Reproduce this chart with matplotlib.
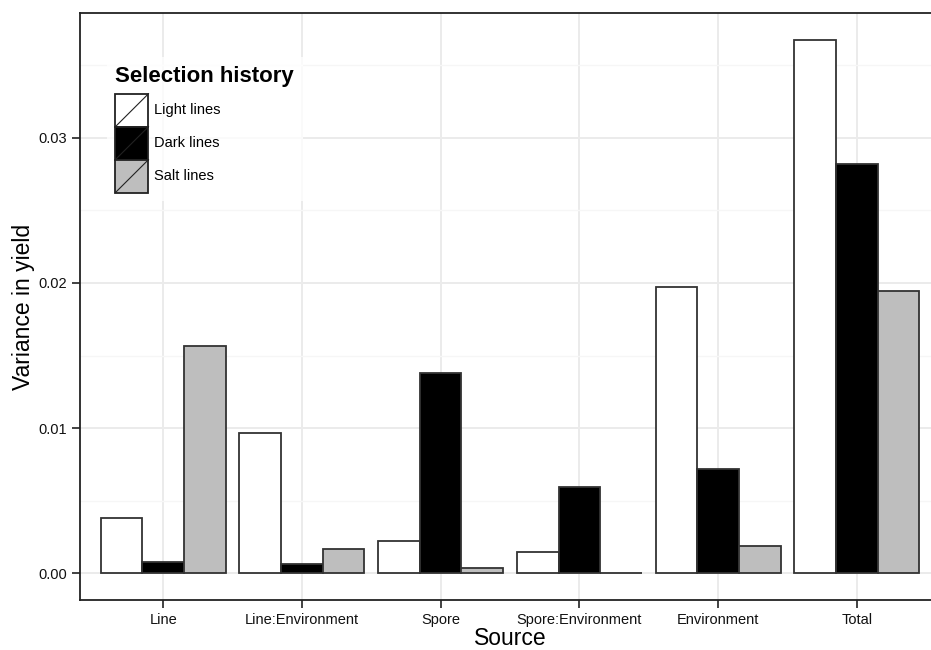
import matplotlib
matplotlib.use('Agg')
import matplotlib.pyplot as plt
import numpy as np
from matplotlib.patches import Rectangle
from matplotlib.lines import Line2D
from matplotlib.legend_handler import HandlerBase
from matplotlib.ticker import MultipleLocator

plt.rcParams['font.family'] = ['Liberation Sans', 'DejaVu Sans']

# Variance components per source, one list per selection history
sources = ['Line', 'Line:Environment', 'Spore', 'Spore:Environment', 'Environment', 'Total']
light_lines = [0.00379, 0.00964, 0.00225, 0.00145, 0.0197, 0.03675]
dark_lines = [0.00080, 0.00062, 0.01377, 0.00597, 0.00718, 0.0282]
salt_lines = [0.01565, 0.00170, 0.00034, 0.0, 0.00186, 0.01941]
series_names = ['Light lines', 'Dark lines', 'Salt lines']
series_colors = ['white', 'black', '#BEBEBE']


class SlashKey(HandlerBase):
    # filled square key with a diagonal stroke, like ggplot bar keys
    def create_artists(self, legend, orig_handle, xdescent, ydescent,
                       width, height, fontsize, trans):
        x0, y0 = -xdescent, -ydescent
        box = Rectangle((x0, y0), width, height,
                        facecolor=orig_handle.get_facecolor(),
                        edgecolor='#222222', lw=1.3, transform=trans)
        slash = Line2D([x0, x0 + width], [y0, y0 + height],
                       color='#222222', lw=0.8, transform=trans)
        return [box, slash]


fig = plt.figure(figsize=(9.31, 6.5), dpi=100)
ax = fig.add_axes([0.0859, 0.0769, 0.9238, 0.9031])

x = np.arange(len(sources))
width = 0.3
handles = []
for i, (vals, name, col) in enumerate(zip([light_lines, dark_lines, salt_lines],
                                            series_names, series_colors)):
    bars = ax.bar(x + (i - 1) * width, vals, width, color=col,
                  edgecolor='#333333', linewidth=1.3, label=name, zorder=3)
    handles.append(bars[0])

ymax = max(max(light_lines), max(dark_lines), max(salt_lines))
pad = 0.05 * ymax
ax.set_ylim(-pad, ymax + pad)
ax.set_xlim(-0.6, len(sources) - 0.4)

ax.set_xticks(x)
ax.set_xticklabels(sources, fontsize=10.5)
ax.yaxis.set_major_locator(MultipleLocator(0.01))
ax.yaxis.set_minor_locator(MultipleLocator(0.005))
ax.set_yticks([0.0, 0.01, 0.02, 0.03])
ax.set_yticklabels(['0.00', '0.01', '0.02', '0.03'], fontsize=10.5)

ax.grid(which='major', axis='both', color='#EBEBEB', lw=1.4, zorder=0)
ax.grid(which='minor', axis='y', color='#F6F6F6', lw=1.0, zorder=0)
ax.set_axisbelow(True)

ax.tick_params(axis='both', which='major', direction='out', length=6,
               width=1.2, color='#222222', pad=3, labelcolor='#111111')
ax.tick_params(axis='y', which='minor', length=0)
for s in ax.spines.values():
    s.set_color('#222222')
    s.set_linewidth(1.3)

ax.set_xlabel('Source', fontsize=16.5, labelpad=0)
ax.set_ylabel('Variance in yield', fontsize=16.5, labelpad=3)

leg = ax.legend(handles, series_names, handler_map={h: SlashKey() for h in handles},
                title='Selection history', loc='upper left',
                bbox_to_anchor=(0.031, 0.925), borderaxespad=0, borderpad=0.6,
                fontsize=10.5, title_fontsize=16, handlelength=2.27,
                handleheight=3.1, labelspacing=0, handletextpad=0.35,
                frameon=True, fancybox=False, alignment='left')
leg.get_frame().set_edgecolor('none')
leg.get_frame().set_facecolor('white')
leg.get_title().set_fontweight('bold')
leg.set_zorder(5)
# small gap between the title and the keys
leg._legend_box.sep = 5

fig.savefig('out.png', dpi=100, facecolor='white')
